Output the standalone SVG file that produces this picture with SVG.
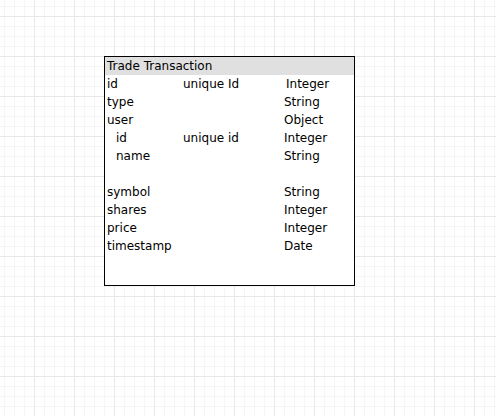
<svg xmlns="http://www.w3.org/2000/svg" width="496" height="416" viewBox="0 0 496 416">
<style>
.t{font-family:"DejaVu Sans","Liberation Sans",sans-serif;font-size:12px;fill:#000}
</style>
<defs>
<pattern id="g" patternUnits="userSpaceOnUse" x="34" y="16" width="40" height="40">
<rect x="0" y="0" width="40" height="40" fill="#fff"/>
<g fill="#f5f5f5">
<rect x="10" y="0" width="1" height="40"/><rect x="20" y="0" width="1" height="40"/><rect x="30" y="0" width="1" height="40"/>
<rect x="0" y="10" width="40" height="1"/><rect x="0" y="20" width="40" height="1"/><rect x="0" y="30" width="40" height="1"/>
</g>
<rect x="0" y="0" width="1" height="40" fill="#e8e8e8"/>
<rect x="0" y="0" width="40" height="1" fill="#e8e8e8"/>
</pattern>
</defs>
<rect width="496" height="416" fill="url(#g)"/>
<g id="trade-transaction">
<rect x="104.5" y="56.5" width="250" height="229" fill="#fff" stroke="#000"/>
<rect x="105" y="57" width="249" height="18" fill="#e0e0e0"/>
<text class="t" x="107" y="70">Trade Transaction</text>
<text class="t" x="107" y="88">id</text><text class="t" x="183" y="88">unique Id</text><text class="t" x="286" y="88">Integer</text>
<text class="t" x="107" y="106">type</text><text class="t" x="284" y="106">String</text>
<text class="t" x="107" y="124">user</text><text class="t" x="284" y="124">Object</text>
<text class="t" x="116" y="142">id</text><text class="t" x="183" y="142">unique id</text><text class="t" x="284" y="142">Integer</text>
<text class="t" x="116" y="160">name</text><text class="t" x="284" y="160">String</text>
<text class="t" x="107" y="196">symbol</text><text class="t" x="284" y="196">String</text>
<text class="t" x="107" y="214">shares</text><text class="t" x="284" y="214">Integer</text>
<text class="t" x="107" y="232">price</text><text class="t" x="284" y="232">Integer</text>
<text class="t" x="107" y="250">timestamp</text><text class="t" x="284" y="250">Date</text>
</g>
<g id="connectors"/>
</svg>
